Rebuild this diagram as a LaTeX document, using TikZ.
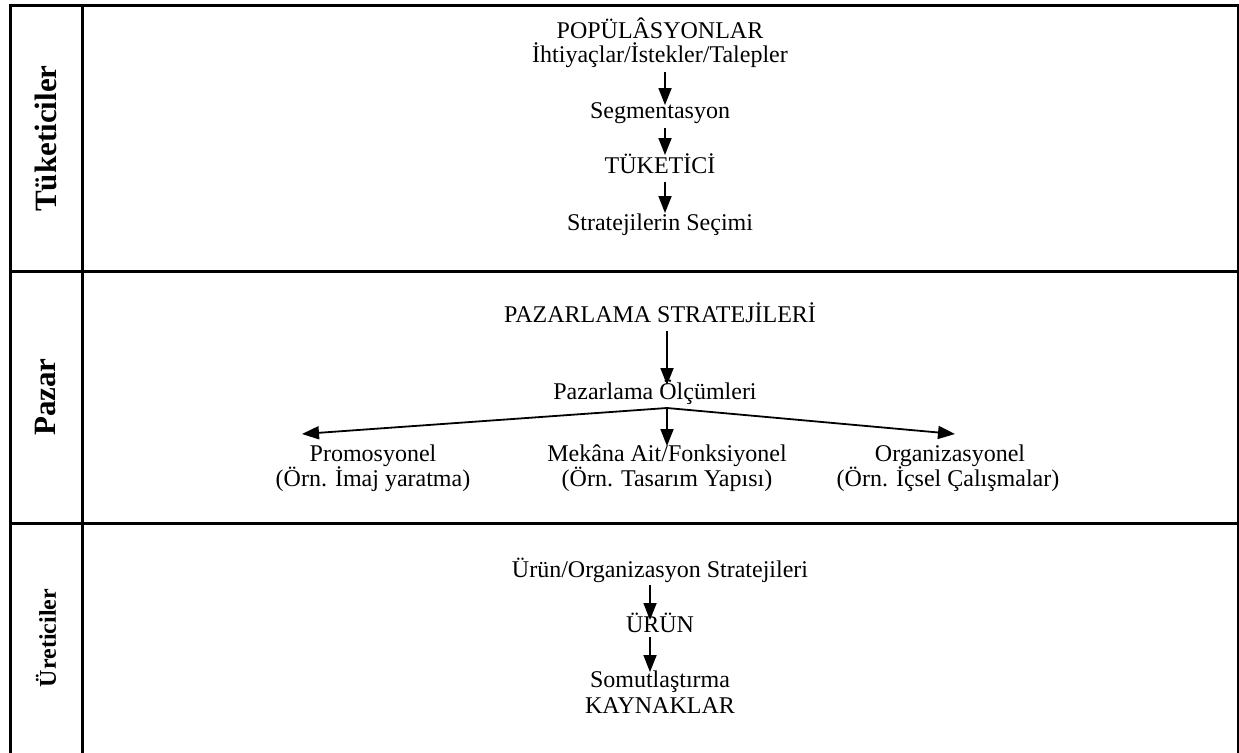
\documentclass[tikz,border=0pt]{standalone}
\usepackage{fontspec}
\setmainfont{Liberation Serif}
\usetikzlibrary{arrows.meta}
\tikzset{
  grid/.style={line width=3pt, line cap=rect},
  txt/.style={anchor=base, inner sep=0pt, font=\fontsize{24}{28}\selectfont},
  side/.style={rotate=90, inner sep=0pt, font=\bfseries\fontsize{#1}{#1}\selectfont},
  arr/.style={line width=1.8pt, -{Triangle[length=17pt,width=13pt]}},
}
\begin{document}
\begin{tikzpicture}[x=1pt,y=-1pt]
\useasboundingbox (0,0) rectangle (1239,752);
\clip (0,0) rectangle (1239,752);

% table frame
\draw[grid] (10,760) -- (10,6) -- (1238,6) -- (1238,760);
\draw[grid] (82,6) -- (82,760);
\draw[grid] (10,271) -- (1238,271);
\draw[grid] (10,523) -- (1238,523);

% row headings
\node[side=31] (h1) at (46,138.5) {Tüketiciler};
\node[side=31] (h2) at (46,397) {Pazar};
\node[side=24] (h3) at (46,638) {Üreticiler};

% consumers
\node[txt] (pop) at (660,38) {POPÜLÂSYONLAR};
\node[txt] (iht) at (660,63) {İhtiyaçlar/İstekler/Talepler};
\node[txt] (seg) at (660,118) {Segmentasyon};
\node[txt] (tuk) at (660,173) {TÜKETİCİ};
\node[txt] (sec) at (660,230) {Stratejilerin Seçimi};

\coordinate (a1s) at (665,72);  \coordinate (a1e) at (665,105);
\coordinate (a2s) at (665,128); \coordinate (a2e) at (665,155);
\coordinate (a3s) at (665,182); \coordinate (a3e) at (665,213);
\draw[arr] (a1s) -- (a1e);
\draw[arr] (a2s) -- (a2e);
\draw[arr] (a3s) -- (a3e);

% market
\node[txt] (pzs) at (660,322) {PAZARLAMA STRATEJİLERİ};
\node[txt] (pzo) at (655,399) {Pazarlama Ölçümleri};
\node[txt] (pro) at (373,461) {Promosyonel};
\node[txt] (pro2) at (373,486) {(Örn. İmaj yaratma)};
\node[txt] (mek) at (667,461) {Mekâna Ait/Fonksiyonel};
\node[txt] (mek2) at (667,486) {(Örn. Tasarım Yapısı)};
\node[txt] (org) at (950,461) {Organizasyonel};
\node[txt] (org2) at (948,486) {(Örn. İçsel Çalışmalar)};

\coordinate (b1s) at (667,331); \coordinate (b1e) at (667,385);
\coordinate (br) at (667,408);
\coordinate (bl) at (302,434);
\coordinate (bm) at (667,446);
\coordinate (bq) at (955,434);
\draw[arr] (b1s) -- (b1e);
\draw[arr] (br) -- (bl);
\draw[arr] (br) -- (bm);
\draw[arr] (br) -- (bq);

% producers
\node[txt] (urs) at (660,577) {Ürün/Organizasyon Stratejileri};
\node[txt] (urn) at (660,632) {ÜRÜN};
\node[txt] (som) at (660,687) {Somutlaştırma};
\node[txt] (kay) at (660,713) {KAYNAKLAR};

\coordinate (c1s) at (650,585); \coordinate (c1e) at (650,620);
\coordinate (c2s) at (650,637); \coordinate (c2e) at (650,672);
\draw[arr] (c1s) -- (c1e);
\draw[arr] (c2s) -- (c2e);
\end{tikzpicture}
\end{document}
